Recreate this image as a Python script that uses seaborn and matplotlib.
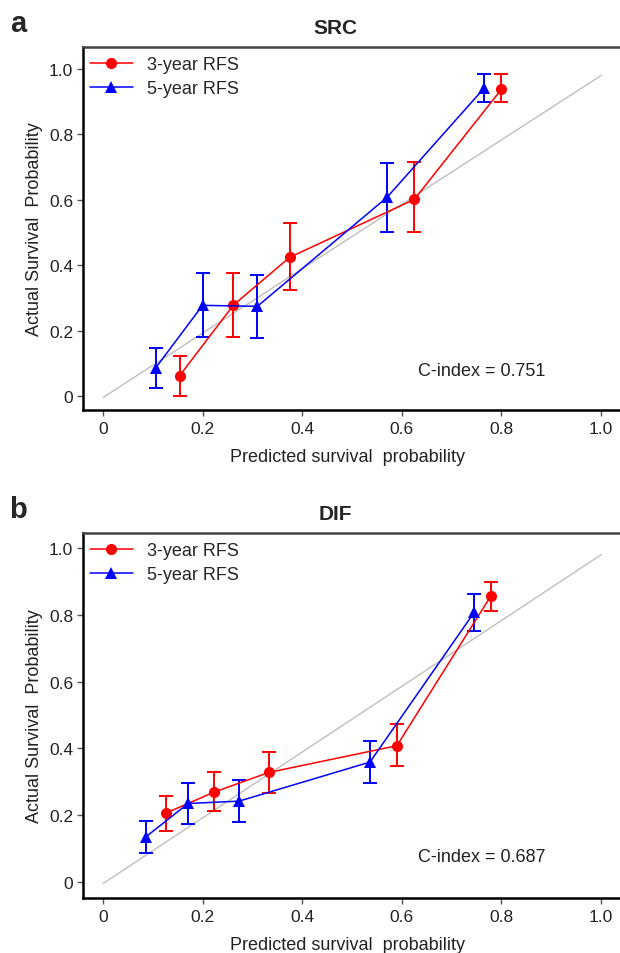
import matplotlib
matplotlib.use("Agg")
import matplotlib.pyplot as plt
import seaborn as sns
import numpy as np
import pandas as pd

# --- dados ---
labels = ["3-year RFS", "5-year RFS"]

# SRC (painel a)
src_x3 = [0.154, 0.262, 0.375, 0.625, 0.800]
src_y3 = [0.062, 0.278, 0.424, 0.601, 0.938]
src_lo3 = [0.000, 0.179, 0.323, 0.500, 0.898]
src_hi3 = [0.121, 0.376, 0.528, 0.714, 0.983]

src_x5 = [0.106, 0.200, 0.310, 0.570, 0.765]
src_y5 = [0.086, 0.277, 0.274, 0.607, 0.941]
src_lo5 = [0.024, 0.179, 0.176, 0.500, 0.898]
src_hi5 = [0.146, 0.376, 0.371, 0.713, 0.984]

# DIF (painel b)
dif_x3 = [0.126, 0.223, 0.333, 0.590, 0.778]
dif_y3 = [0.206, 0.269, 0.328, 0.408, 0.855]
dif_lo3 = [0.154, 0.212, 0.266, 0.348, 0.811]
dif_hi3 = [0.256, 0.328, 0.389, 0.472, 0.898]

dif_x5 = [0.087, 0.171, 0.273, 0.536, 0.745]
dif_y5 = [0.136, 0.235, 0.242, 0.359, 0.807]
dif_lo5 = [0.087, 0.174, 0.179, 0.295, 0.753]
dif_hi5 = [0.184, 0.295, 0.306, 0.422, 0.861]

diag_x = [0.0, 1.0]
diag_y = [-0.005, 0.98]

cindex = {"SRC": "0.751", "DIF": "0.687"}
ticks = [0, 0.2, 0.4, 0.6, 0.8, 1.0]
tick_labels = ["0", "0.2", "0.4", "0.6", "0.8", "1.0"]

cores = {"3-year RFS": "#FF0000", "5-year RFS": "#0000FF"}
marcadores = {"3-year RFS": "o", "5-year RFS": "^"}


def monta_df(x3, y3, lo3, hi3, x5, y5, lo5, hi5):
    d3 = pd.DataFrame({"x": x3, "y": y3, "lo": lo3, "hi": hi3, "serie": labels[0]})
    d5 = pd.DataFrame({"x": x5, "y": y5, "lo": lo5, "hi": hi5, "serie": labels[1]})
    return pd.concat([d3, d5], ignore_index=True)


df_src = monta_df(src_x3, src_y3, src_lo3, src_hi3, src_x5, src_y5, src_lo5, src_hi5)
df_dif = monta_df(dif_x3, dif_y3, dif_lo3, dif_hi3, dif_x5, dif_y5, dif_lo5, dif_hi5)

sns.set_style("white")
plt.rcParams["font.family"] = ["Liberation Sans", "DejaVu Sans"]

W, H = 620, 954
fig = plt.figure(figsize=(W / 100, H / 100), dpi=100)


def painel(df, nome, letra, top_px, bot_px, ylim):
    left_px, right_px = 83, 640
    ax = fig.add_axes([left_px / W, 1 - bot_px / H,
                       (right_px - left_px) / W, (bot_px - top_px) / H])

    ax.plot(diag_x, diag_y, color="#BEBEBE", lw=1, zorder=1)

    sns.lineplot(data=df, x="x", y="y", hue="serie", style="serie",
                 palette=cores, markers=marcadores, dashes=False,
                 estimator=None, sort=False, lw=1.1, markersize=8,
                 markeredgewidth=0, ax=ax, zorder=3)

    for serie, g in df.groupby("serie"):
        ax.errorbar(g["x"], g["y"],
                    yerr=[g["y"] - g["lo"], g["hi"] - g["y"]],
                    fmt="none", ecolor=cores[serie], elinewidth=1.4,
                    capsize=5, capthick=1.4, zorder=2)

    ax.set_xlim(-0.04, 1.078)
    ax.set_ylim(*ylim)
    ax.set_xticks(ticks)
    ax.set_xticklabels(tick_labels)
    ax.set_yticks(ticks)
    ax.set_yticklabels(tick_labels)
    ax.tick_params(axis="both", labelsize=12.5, length=4, width=1,
                   color="#555555", labelcolor="#222222", direction="out",
                   bottom=True, left=True)
    ax.tick_params(axis="x", pad=4)
    ax.tick_params(axis="y", pad=3)

    for s in ["left", "bottom"]:
        ax.spines[s].set_linewidth(1.8)
        ax.spines[s].set_color("black")
    ax.spines["top"].set_linewidth(1.8)
    ax.spines["top"].set_color("#444444")
    ax.spines["right"].set_visible(False)

    ax.set_xlabel("")
    ax.set_ylabel("Actual Survival  Probability", fontsize=13, color="#222222",
                  labelpad=4)
    fig.text(348 / W, 1 - (bot_px + 47) / H, "Predicted survival  probability",
             ha="center", va="center", fontsize=13, color="#222222")

    h, l = ax.get_legend_handles_labels()
    ax.legend(h, l, loc="upper left", bbox_to_anchor=(0.012, 0.975),
              frameon=False, fontsize=13, handlelength=2.4,
              handletextpad=0.8, labelspacing=0.4, borderpad=0,
              borderaxespad=0)

    ax.text(0.632, 0.077, f"C-index = {cindex[nome]}", fontsize=13,
            color="#222222", va="center", ha="left")

    fig.text(335 / W, 1 - (top_px - 19) / H, nome, ha="center", va="center",
             fontsize=15, fontweight="bold")
    fig.text(18 / W, 1 - (top_px - 24) / H, letra, ha="center", va="center",
             fontsize=21, fontweight="bold")
    return ax


painel(df_src, "SRC", "a", 48, 411, (-0.043, 1.067))
painel(df_dif, "DIF", "b", 534, 899, (-0.048, 1.045))

fig.savefig("out.png", dpi=100)
